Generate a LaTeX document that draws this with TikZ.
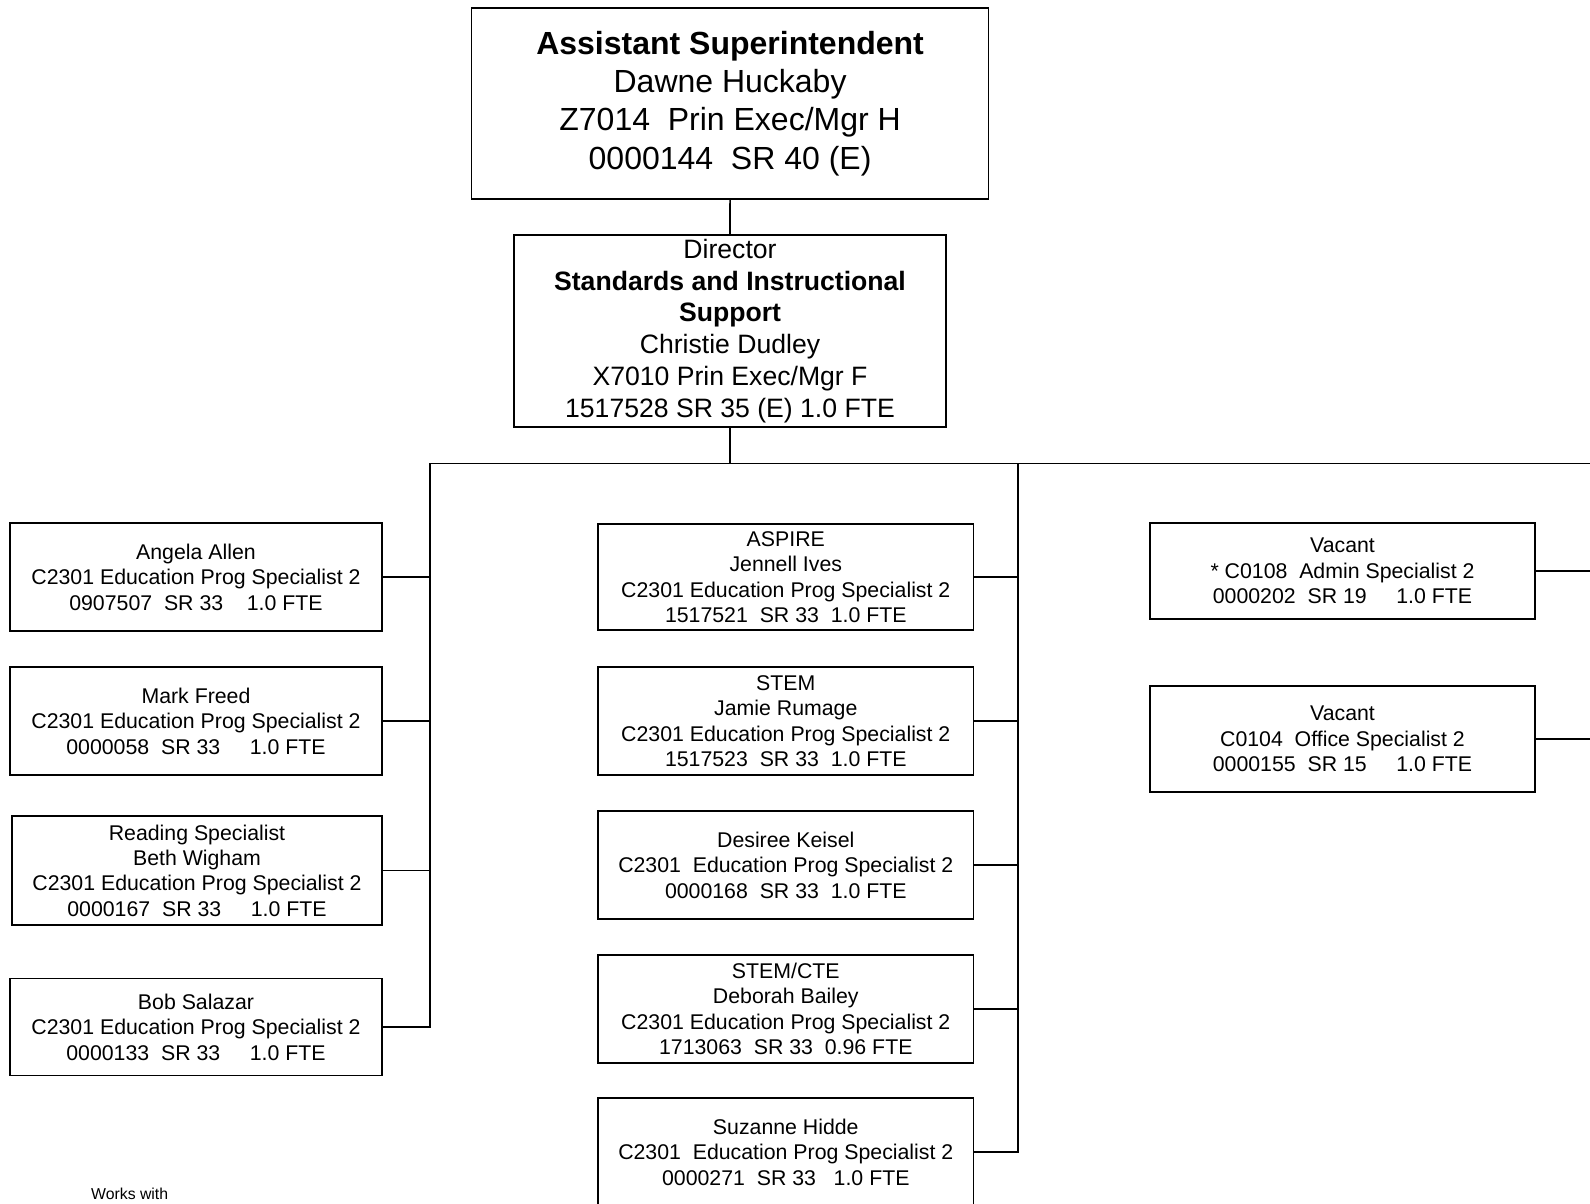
\documentclass[tikz,border=0pt]{standalone}
\usepackage{fontspec}
\setmainfont{Liberation Sans}
\newcommand\fsmall{\fontsize{21.3}{25.4}\selectfont}
\newcommand\fdir{\fontsize{26.6}{31.8}\selectfont}
\newcommand\ftop{\fontsize{32}{38.4}\selectfont}
\begin{document}
\begin{tikzpicture}[x=1pt,y=-1pt,
  box/.style={draw, line width=1.7pt, inner sep=0pt, align=center, font=\fsmall},
  link/.style={line width=1.7pt, line cap=rect}]
\useasboundingbox (0,0) rectangle (1590,1204);
\clip (0,0) rectangle (1590,1204);
\fill[white] (0,0) rectangle (1590,1204);

% top
\node[box, font=\ftop, minimum width=517, minimum height=191.6] (top) at (730.1,103.5)
  {\textbf{Assistant Superintendent}\\Dawne Huckaby\\Z7014~~Prin Exec/Mgr H\\0000144~~SR 40 (E)};
\node[box, font=\fdir, minimum width=432, minimum height=192] (dir) at (730,331)
  {Director\\\textbf{Standards and Instructional}\\\textbf{Support}\\Christie Dudley\\X7010 Prin Exec/Mgr F\\1517528 SR 35 (E) 1.0 FTE};

% left column
\node[box, minimum width=372, minimum height=108] (a1) at (196,577)
  {Angela Allen\\C2301 Education Prog Specialist 2\\0907507~~SR 33~~~~1.0 FTE};
\node[box, minimum width=372, minimum height=108] (a2) at (196,721)
  {Mark Freed\\C2301 Education Prog Specialist 2\\0000058~~SR 33~~~~~1.0 FTE};
\node[box, minimum width=370, minimum height=109] (a3) at (197,870.5)
  {Reading Specialist\\Beth Wigham\\C2301 Education Prog Specialist 2\\0000167~~SR 33~~~~~1.0 FTE};
\node[box, minimum width=372, minimum height=97] (a4) at (196,1027)
  {Bob Salazar\\C2301 Education Prog Specialist 2\\0000133~~SR 33~~~~~1.0 FTE};

% middle column
\node[box, minimum width=375.5, minimum height=106] (m1) at (785.8,577)
  {ASPIRE\\Jennell Ives\\C2301 Education Prog Specialist 2\\1517521~~SR 33~~1.0 FTE};
\node[box, minimum width=375.5, minimum height=108] (m2) at (785.8,721)
  {STEM\\Jamie Rumage\\C2301 Education Prog Specialist 2\\1517523~~SR 33~~1.0 FTE};
\node[box, minimum width=375.5, minimum height=108] (m3) at (785.8,865)
  {Desiree Keisel\\C2301~~Education Prog Specialist 2\\0000168~~SR 33~~1.0 FTE};
\node[box, minimum width=375.5, minimum height=108] (m4) at (785.8,1009)
  {STEM/CTE\\Deborah Bailey\\C2301 Education Prog Specialist 2\\1713063~~SR 33~~0.96 FTE};
\node[box, minimum width=375.5, minimum height=108] (m5) at (785.8,1152)
  {Suzanne Hidde\\C2301~~Education Prog Specialist 2\\0000271~~SR 33~~~1.0 FTE};

% right column
\node[box, minimum width=385, minimum height=96] (r1) at (1342.5,571)
  {Vacant\\* C0108~~Admin Specialist 2\\0000202~~SR 19~~~~~1.0 FTE};
\node[box, minimum width=385, minimum height=106] (r2) at (1342.5,739)
  {Vacant\\C0104~~Office Specialist 2\\0000155~~SR 15~~~~~1.0 FTE};

% note
\node[anchor=base west, inner sep=0pt, font=\fontsize{15.8}{19}\selectfont] (note) at (91,1199) {Works with};

% connectors
\coordinate (busL) at (430,463.4);
\coordinate (busM) at (1018,463.4);
\coordinate (busR) at (1595,463.4);
\draw[link] (top.south) -- (dir.north);
\draw[link] (dir.south) -- (dir.south |- busL);
\draw[link] (busL) -- (busR);
\draw[link] (busL) -- (busL |- a4.east);
\draw[link] (busM) -- (busM |- m5.east);
\foreach \n in {a1,a2,a3,a4} \draw[link] (\n.east) -- (\n.east -| busL);
\foreach \n in {m1,m2,m3,m4,m5} \draw[link] (\n.east) -- (\n.east -| busM);
\foreach \n in {r1,r2} \draw[link] (\n.east) -- (\n.east -| busR);
\end{tikzpicture}
\end{document}
